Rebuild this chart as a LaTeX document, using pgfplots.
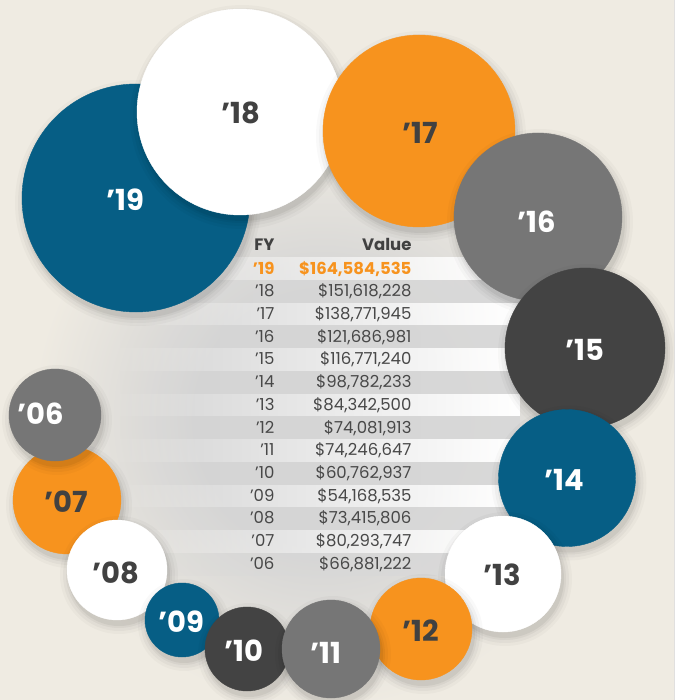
\documentclass[border=0pt]{standalone}
\usepackage{pgfplots}
\pgfplotsset{compat=1.18}
\usepackage{fontspec}
\setmainfont{Poppins}
\usetikzlibrary{fadings}
\definecolor{bgc}{RGB}{239,235,226}
\definecolor{cblue}{RGB}{6,94,133}
\definecolor{corange}{RGB}{247,147,30}
\definecolor{cgray}{RGB}{118,118,118}
\definecolor{cdark}{RGB}{67,67,67}
\definecolor{cwhite}{RGB}{255,255,255}
\definecolor{ltxt}{RGB}{65,65,65}
\definecolor{ttxt}{RGB}{72,72,72}
\definecolor{blobc}{RGB}{212,212,212}
\definecolor{bandg}{RGB}{216,216,216}
\tikzfading[name=fadeL, left color=transparent!100, middle color=transparent!0, right color=transparent!0]
\tikzfading[name=fadeR, left color=transparent!55, right color=transparent!100]
\pgfdeclareradialshading{blob}{\pgfpoint{0bp}{0bp}}{color(0bp)=(blobc); color(5.5bp)=(blobc); color(12.5bp)=(bgc); color(25bp)=(bgc); color(50bp)=(bgc)}
% x, y, r, colour
\newcommand{\bubble}[4]{%
  \addplot[only marks, mark=*, mark size=#3+9, mark options={draw opacity=0, fill=black, fill opacity=0.025}, xshift=2pt, yshift=-5pt] coordinates {(#1,#2)};
  \addplot[only marks, mark=*, mark size=#3+6, mark options={draw opacity=0, fill=black, fill opacity=0.03}, xshift=2pt, yshift=-5pt] coordinates {(#1,#2)};
  \addplot[only marks, mark=*, mark size=#3+3, mark options={draw opacity=0, fill=black, fill opacity=0.04}, xshift=2pt, yshift=-5pt] coordinates {(#1,#2)};
  \addplot[only marks, mark=*, mark size=#3+1, mark options={draw opacity=0, fill=black, fill opacity=0.05}, xshift=2pt, yshift=-5pt] coordinates {(#1,#2)};
  \addplot[only marks, mark=*, mark size=#3, mark options={draw=#4, fill=#4}] coordinates {(#1,#2)};
}
\newcommand{\blabel}[4]{\node[font=\bfseries\fontsize{29}{29}\selectfont, text=#4] at (axis cs:#1,#2) {#3};}
\newcommand{\trow}[4]{%
  \node[anchor=base east, font=\fontsize{16.5}{16.5}\selectfont, text=#4] at (axis cs:278,#1) {#2};
  \node[anchor=base east, font=\fontsize{16.5}{16.5}\selectfont, text=#4] at (axis cs:415,#1) {#3};
}
\newcommand{\trowb}[4]{%
  \node[anchor=base east, font=\bfseries\fontsize{16.5}{16.5}\selectfont, text=#4] at (axis cs:278,#1) {#2};
  \node[anchor=base east, font=\bfseries\fontsize{16.5}{16.5}\selectfont, text=#4] at (axis cs:415,#1) {#3};
}
\begin{document}
\begin{tikzpicture}
\begin{axis}[
  width=674pt, height=700pt, scale only axis,
  xmin=0, xmax=674, ymin=0, ymax=700, y dir=reverse,
  axis lines=none, clip=true, clip marker paths=true,
  axis background/.style={fill=bgc},
]
% light patch in the top left corner
\fill[white, path fading=fadeR] (axis cs:16,0) rectangle (axis cs:60,28);
% soft grey area behind the table (edge lies outside the picture)
\fill[shading=blob] (axis cs:322,418) circle [radius=580pt];
% table bands
\fill[white, path fading=fadeL] (axis cs:120,257) rectangle (axis cs:520,279.75);
\fill[bandg, path fading=fadeL] (axis cs:120,279.75) rectangle (axis cs:520,302.5);
\fill[white, path fading=fadeL] (axis cs:120,302.5) rectangle (axis cs:520,325.25);
\fill[bandg, path fading=fadeL] (axis cs:120,325.25) rectangle (axis cs:520,348);
\fill[white, path fading=fadeL] (axis cs:120,348) rectangle (axis cs:520,370.75);
\fill[bandg, path fading=fadeL] (axis cs:120,370.75) rectangle (axis cs:520,393.5);
\fill[white, path fading=fadeL] (axis cs:120,393.5) rectangle (axis cs:520,416.25);
\fill[bandg, path fading=fadeL] (axis cs:120,416.25) rectangle (axis cs:520,439);
\fill[white, path fading=fadeL] (axis cs:120,439) rectangle (axis cs:520,461.75);
\fill[bandg, path fading=fadeL] (axis cs:120,461.75) rectangle (axis cs:520,484.5);
\fill[white, path fading=fadeL] (axis cs:120,484.5) rectangle (axis cs:520,507.25);
\fill[bandg, path fading=fadeL] (axis cs:120,507.25) rectangle (axis cs:520,530);
\fill[white, path fading=fadeL] (axis cs:120,530) rectangle (axis cs:520,552.75);
\fill[bandg, path fading=fadeL] (axis cs:120,552.75) rectangle (axis cs:520,575.5);
% table text
\trowb{250.5}{FY}{Value}{ltxt}
\trowb{274}{’19}{\$164,584,535}{corange}
\trow{296.5}{’18}{\$151,618,228}{ttxt}
\trow{319.5}{’17}{\$138,771,945}{ttxt}
\trow{342}{’16}{\$121,686,981}{ttxt}
\trow{364.5}{’15}{\$116,771,240}{ttxt}
\trow{387.5}{’14}{\$98,782,233}{ttxt}
\trow{410}{’13}{\$84,342,500}{ttxt}
\trow{433}{’12}{\$74,081,913}{ttxt}
\trow{455.5}{’11}{\$74,246,647}{ttxt}
\trow{478}{’10}{\$60,762,937}{ttxt}
\trow{501}{’09}{\$54,168,535}{ttxt}
\trow{523.5}{’08}{\$73,415,806}{ttxt}
\trow{546.5}{’07}{\$80,293,747}{ttxt}
\trow{569}{’06}{\$66,881,222}{ttxt}
% bubbles (drawing order gives the overlaps)
\bubble{136}{198}{114}{cblue}
\bubble{240}{112}{103}{cwhite}
\bubble{419}{131}{96}{corange}
\bubble{538}{217}{84}{cgray}
\bubble{585}{348}{80}{cdark}
\bubble{567}{478}{68.5}{cblue}
\bubble{503}{574}{58}{cwhite}
\bubble{421}{629}{51}{corange}
\bubble{67}{500}{54}{corange}
\bubble{55}{415}{46}{cgray}
\bubble{117}{570}{50}{cwhite}
\bubble{182}{620}{37}{cblue}
\bubble{247}{649}{42}{cdark}
\bubble{331}{649}{49}{cgray}
% bubble labels
\blabel{125}{200}{’19}{white}
\blabel{241}{113}{’18}{ltxt}
\blabel{420}{133}{’17}{ltxt}
\blabel{537}{222}{’16}{white}
\blabel{585}{350}{’15}{white}
\blabel{564}{480}{’14}{white}
\blabel{502}{575}{’13}{ltxt}
\blabel{421}{631}{’12}{ltxt}
\blabel{326}{653}{’11}{white}
\blabel{244}{651}{’10}{white}
\blabel{181}{622}{’09}{white}
\blabel{116}{573}{’08}{ltxt}
\blabel{66}{502}{’07}{ltxt}
\blabel{41}{414}{’06}{white}
\end{axis}
\pgfresetboundingbox
\path[use as bounding box] (current axis.south west) rectangle (current axis.north east);
\end{tikzpicture}
\end{document}
